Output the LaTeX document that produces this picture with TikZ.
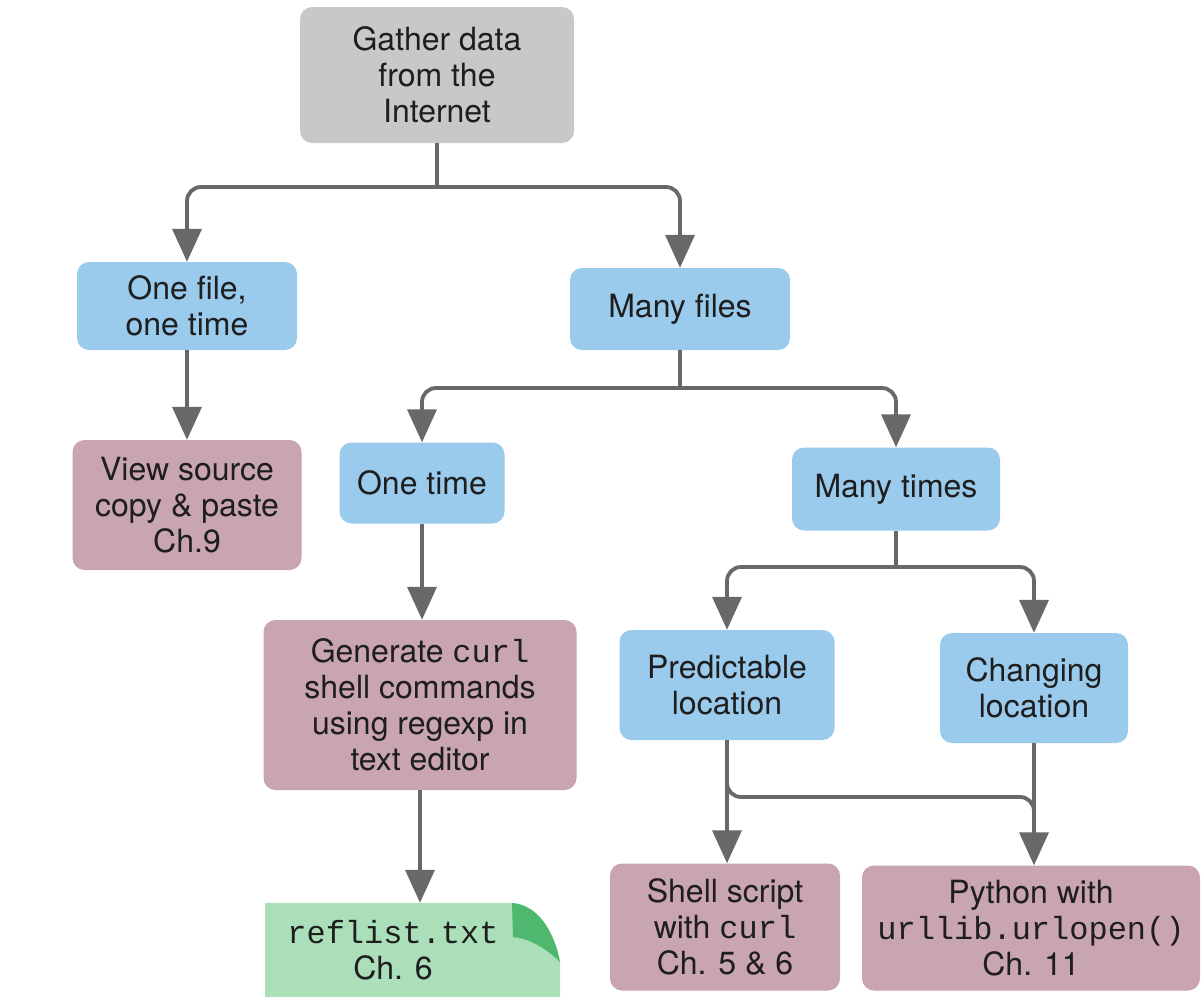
\documentclass[tikz,border=0pt]{standalone}
\usepackage{fontspec}
\setmainfont{TeX Gyre Heros}
\newfontfamily\mono{Liberation Mono}
\usetikzlibrary{arrows.meta,calc}
\definecolor{cblue}{RGB}{154,202,236}
\definecolor{cpink}{RGB}{201,164,178}
\definecolor{cgray}{RGB}{200,200,198}
\definecolor{cgreen}{RGB}{170,223,186}
\definecolor{cflap}{RGB}{78,184,110}
\definecolor{cline}{RGB}{104,104,104}
\definecolor{ctxt}{RGB}{30,30,30}
\tikzset{
  box/.style={rounded corners=12pt, align=center, inner sep=0pt, text=ctxt,
    font=\fontsize{32}{36}\selectfont},
  bluebox/.style={box, fill=cblue},
  pinkbox/.style={box, fill=cpink},
  graybox/.style={box, fill=cgray},
  plain/.style={align=center, inner sep=0pt, text=ctxt, font=\fontsize{32}{36}\selectfont},
  conn/.style={draw=cline, line width=3.8pt},
  arr/.style={conn, -{Triangle[width=29pt,length=33pt]}},
  rc/.style={rounded corners=14pt}
}
\begin{document}
\begin{tikzpicture}[x=1pt,y=-1pt]
\clip (0,0) rectangle (1201,996);
\fill[white] (0,0) rectangle (1201,996);

% nodes
\node[graybox, minimum width=274pt, minimum height=136pt] (gather) at (437,75) {Gather data\\from the\\Internet};
\node[bluebox, minimum width=220pt, minimum height=88pt] (onefile) at (187,306) {One file,\\one time};
\node[bluebox, minimum width=220pt, minimum height=82pt] (manyfiles) at (680,309) {Many files};
\node[pinkbox, minimum width=229pt, minimum height=130pt] (viewsrc) at (187,505) {View source\\copy \& paste\\Ch.9};
\node[bluebox, minimum width=165pt, minimum height=81pt] (onetime) at (422,483) {One time};
\node[bluebox, minimum width=208pt, minimum height=83pt] (manytimes) at (896,489) {Many times};
\node[pinkbox, minimum width=313pt, minimum height=170pt] (generate) at (420,705) {Generate {\mono curl}\\shell commands\\using regexp in\\text editor};
\node[bluebox, minimum width=215pt, minimum height=110pt] (predictable) at (727,685) {Predictable\\location};
\node[bluebox, minimum width=188pt, minimum height=110pt] (changing) at (1034,688) {Changing\\location};
\node[pinkbox, minimum width=230pt, minimum height=127pt] (shell) at (725,927) {Shell script\\with {\mono curl}\\Ch. 5 \& 6};
\node[pinkbox, minimum width=338pt, minimum height=125pt] (python) at (1031,928) {Python with\\{\mono urllib.urlopen()}\\Ch. 11};

% reflist page with curled corner
\fill[cgreen] (265,903) -- (512,903) .. controls (540,905) and (555,935) .. (560,962) -- (560,1010) -- (265,1010) -- cycle;
\fill[cflap] (512,903) .. controls (540,905) and (555,935) .. (560,962) .. controls (545,947) and (527,938) .. (513,937) -- cycle;
\node[plain, minimum height=94pt] (reflist) at (393,950) {{\mono reflist.txt}\\Ch. 6};

% junction points
\coordinate (j1) at (437,187);
\coordinate (j2) at (680,388);
\coordinate (j3) at (896,567);
\coordinate (j4) at (880,797);

% connectors
\draw[conn] (gather.south) -- (j1);
\draw[arr, rc] (j1) -| (onefile.north);
\draw[arr, rc] (j1) -| (manyfiles.north);
\draw[arr] (onefile.south) -- (viewsrc.north);
\draw[conn] (manyfiles.south) -- (j2);
\draw[arr, rc] (j2) -| (onetime.north);
\draw[arr, rc] (j2) -| (manytimes.north);
\draw[arr] (onetime.south) -- (onetime.south |- generate.north);
\draw[arr] (generate.south) -- (generate.south |- reflist.north);
\draw[conn] (manytimes.south) -- (j3);
\draw[arr, rc] (j3) -| (predictable.north);
\draw[arr, rc] (j3) -| (changing.north);
\draw[arr] (predictable.south) -- (predictable.south |- shell.north);
\draw[conn] (changing.south) -- ($(changing.south |- python.north)+(0,-30)$);
\draw[arr, rc] (predictable.south) |- (j4) -| (changing.south |- python.north);
\end{tikzpicture}
\end{document}
